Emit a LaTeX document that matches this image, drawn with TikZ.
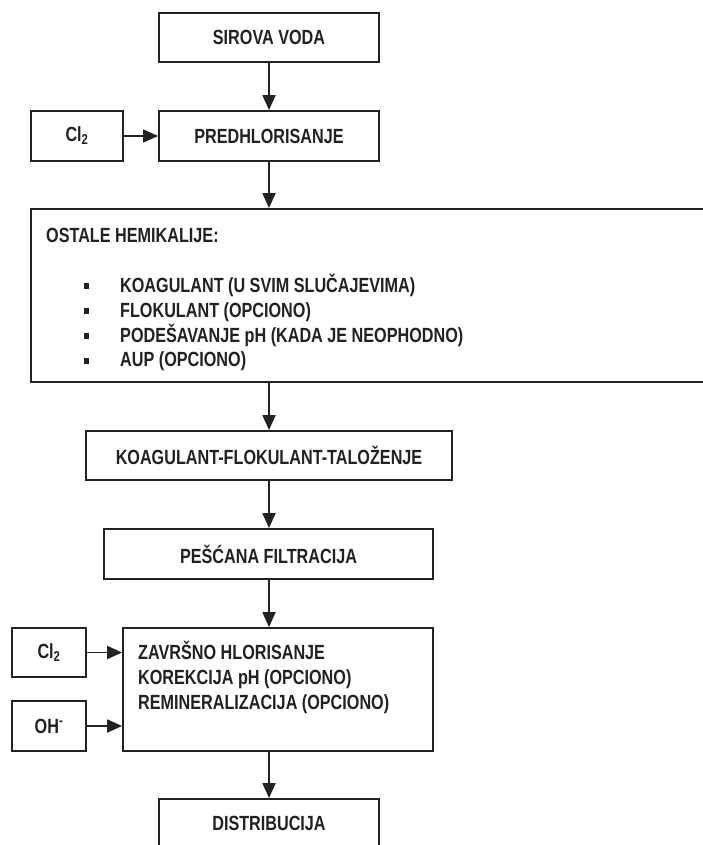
\documentclass[tikz,border=0pt]{standalone}
\usepackage{fontspec}
\setmainfont[FakeStretch=0.79]{Liberation Sans}
\usetikzlibrary{arrows.meta}
\definecolor{ink}{HTML}{222222}
\tikzset{
  box/.style={draw=ink, line width=1.8pt, inner sep=0pt, text=ink, font=\fontsize{20.5}{24}\selectfont\bfseries},
  txt/.style={inner sep=0pt, text=ink, font=\fontsize{20.5}{24}\selectfont\bfseries, anchor=base west},
  bul/.style={fill=ink, inner sep=0pt, minimum width=5pt, minimum height=6pt},
  arr/.style={draw=ink, line width=1.8pt, -{Triangle[length=15pt,width=13pt]}}
}
\begin{document}
\begin{tikzpicture}[x=1pt,y=-1pt]
\useasboundingbox (0,0) rectangle (703,845);
\clip (0,0) rectangle (703,845);
\fill[white] (0,0) rectangle (703,845);
% main column
\node[box, minimum width=220pt, minimum height=49pt] (sv) at (269,37.5) {SIROVA VODA};
\node[box, minimum width=220pt, minimum height=50pt] (ph) at (269,136) {PREDHLORISANJE};
\node[box, minimum width=92pt, minimum height=50pt] (cl1) at (77,136) {Cl\textsubscript{2}};
\node[box, minimum width=689pt, minimum height=173pt] (big) at (375.5,295.5) {};
\node[txt] (h) at (46,242.5) {OSTALE HEMIKALIJE:};
\node[bul] (b1) at (86.5,286) {};
\node[bul] (b2) at (86.5,311) {};
\node[bul] (b3) at (86.5,336) {};
\node[bul] (b4) at (86.5,361) {};
\node[txt] (t1) at (120,292.5) {KOAGULANT (U SVIM SLUČAJEVIMA)};
\node[txt] (t2) at (120,317) {FLOKULANT (OPCIONO)};
\node[txt] (t3) at (120,342) {PODEŠAVANJE pH (KADA JE NEOPHODNO)};
\node[txt] (t4) at (120,366.5) {AUP (OPCIONO)};
\node[box, minimum width=366pt, minimum height=49pt] (kft) at (269,455.5) {KOAGULANT-FLOKULANT-TALOŽENJE};
\node[box, minimum width=329pt, minimum height=50pt] (pf) at (268.5,554) {PEŠĆANA FILTRACIJA};
\node[box, minimum width=310pt, minimum height=123pt] (fin) at (278,689.5) {};
\node[txt] (f1) at (138,659.5) {ZAVRŠNO HLORISANJE};
\node[txt] (f2) at (138,684.5) {KOREKCIJA pH (OPCIONO)};
\node[txt] (f3) at (138,709.5) {REMINERALIZACIJA (OPCIONO)};
\node[box, minimum width=74pt, minimum height=49pt] (cl2) at (49,652.5) {Cl\textsubscript{2}};
\node[box, minimum width=74pt, minimum height=50pt] (oh) at (49,726) {OH\textsuperscript{-}};
\node[box, minimum width=220pt, minimum height=49pt] (dist) at (269,823.5) {DISTRIBUCIJA};
% connectors
\draw[arr] (sv.south) -- (ph.north);
\draw[arr] (cl1.east) -- (ph.west);
\draw[arr] (ph.south) -- (ph.south |- big.north);
\draw[arr] (ph.south |- big.south) -- (kft.north);
\draw[arr] (kft.south) -- (pf.north -| kft.south);
\draw[arr] (pf.south -| kft.south) -- (fin.north -| kft.south);
\draw[arr] (cl2.east) -- (cl2.east -| fin.west);
\draw[arr] (oh.east) -- (oh.east -| fin.west);
\draw[arr] (fin.south -| dist.north) -- (dist.north);
\end{tikzpicture}
\end{document}
